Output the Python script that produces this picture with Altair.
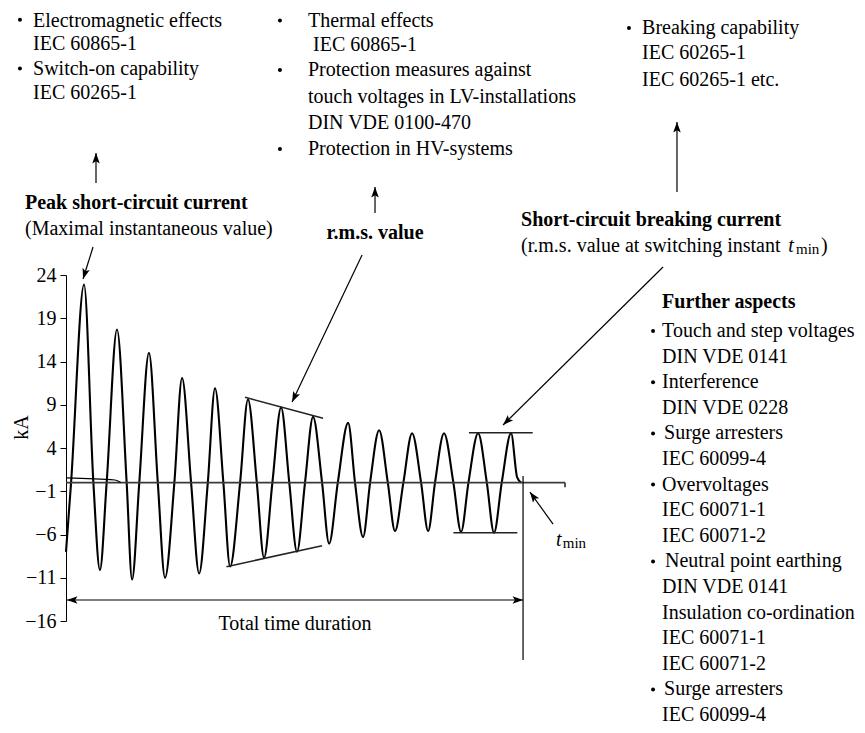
import math
import altair as alt
import pandas as pd

# ---------------- data (time in ms, current in kA) ----------------
wave_t = [0, 3.1, 11.0, 16.7, 20.7, 24.8, 31.1, 37.0, 40.3, 44.7, 50.6, 56.0, 60.4, 66.1,
          70.8, 76.3, 81.2, 86.5, 90.9, 96.0, 100.1, 106.2, 111.0, 116.4, 120.8, 125.9,
          131.2, 136.2, 140.9, 145.8, 150.7, 156.2, 160.5, 165.8, 172.1, 176.3, 181.2,
          185.5, 191.0, 196.3, 200.7, 205.8, 211.1, 216.6, 220.9, 225.1, 230.6, 236.3,
          241.0, 245.5, 251.4, 256.7, 261.1, 265.8, 271.5, 275.2, 277.6]
wave_i = [-8.0, 0, 22.9, 0, -10.1, 0, 17.7, 0, -11.2, 0, 15.0, 0, -11.0, 0,
          12.1, 0, -10.5, 0, 10.9, 0, -9.7, 0, 9.6, 0, -8.7, 0,
          8.7, 0, -8.0, 0, 7.6, 0, -7.05, 0, 6.9, 0, -6.3,
          0, 6.05, 0, -5.6, 0, 5.7, 0, -5.6, 0, 5.7, 0,
          -5.7, 0, 5.7, 0, -5.8, 0, 5.7, 0.6, 0]

dc_t = [0, 29.9, 33.4]
dc_i = [0.55, 0.3, 0]

y_ticks = [24, 19, 14, 9, 4, -1, -6, -11, -16]

# envelope / reference lines (t, v, t2, v2)
rms_lines = [(109.2, 9.86, 156.8, 7.43), (97.9, -9.72, 156.2, -7.29)]
brk_lines = [(245.8, 5.77, 284.7, 5.77), (236.3, -5.79, 275.3, -5.79)]
t_min = 278.8
zero_end = 304.4

# arrows: (t_from, v_from, t_tip, v_tip)
arrows = [
    (16.5, 27.24, 10.4, 23.54),
    (18.3, 34.64, 18.3, 38.1),
    (188.5, 31.17, 188.5, 34.17),
    (372.7, 33.6, 372.7, 41.69),
    (180.6, 26.31, 137.9, 9.32),
    (364.2, 24.92, 266.6, 6.66),
    (297.1, -4.79, 283.0, -1.09),
]
total_v = -13.57

# text annotations
normal_txt = [
    (-20.1, 53.42, "Electromagnetic effects"),
    (-20.1, 50.66, "IEC 60865-1"),
    (-20.1, 47.87, "Switch-on capability"),
    (-20.1, 45.04, "IEC 60265-1"),
    (-25.0, 29.32, "(Maximal instantaneous value)"),
    (147.6, 53.36, "Thermal effects"),
    (150.7, 50.55, "IEC 60865-1"),
    (147.6, 47.7, "Protection measures against"),
    (147.6, 44.58, "touch voltages in LV-installations"),
    (147.6, 41.57, "DIN VDE 0100-470"),
    (147.6, 38.57, "Protection in HV-systems"),
    (351.4, 52.55, "Breaking capability"),
    (351.4, 49.66, "IEC 60265-1"),
    (351.4, 46.54, "IEC 60265-1 etc."),
    (277.6, 27.35, "(r.m.s. value at switching instant"),
    (460.6, 27.35, ")"),
    (363.6, 17.53, "Touch and step voltages"),
    (363.6, 14.57, "DIN VDE 0141"),
    (363.6, 11.61, "Interference"),
    (363.6, 8.65, "DIN VDE 0228"),
    (364.8, 5.69, "Surge arresters"),
    (363.6, 2.73, "IEC 60099-4"),
    (363.6, -0.23, "Overvoltages"),
    (363.6, -3.19, "IEC 60071-1"),
    (363.6, -6.15, "IEC 60071-2"),
    (365.4, -9.11, "Neutral point earthing"),
    (363.6, -12.07, "DIN VDE 0141"),
    (363.6, -15.03, "Insulation co-ordination"),
    (363.6, -17.99, "IEC 60071-1"),
    (363.6, -20.95, "IEC 60071-2"),
    (364.8, -23.91, "Surge arresters"),
    (363.6, -26.87, "IEC 60099-4"),
]
bold_txt = [
    (-25.0, 32.32, "Peak short-circuit current", "left"),
    (188.5, 28.86, "r.m.s. value", "center"),
    (277.6, 30.36, "Short-circuit breaking current", "left"),
    (363.6, 20.9, "Further aspects", "left"),
]
italic_txt = [(440.6, 27.35, "t"), (298.9, -6.64, "t")]
sub_txt = [(445.3, 26.95, "min"), (303.0, -7.0, "min")]
bullets = [(-28.1, 53.5), (-28.1, 47.87), (130.5, 53.42), (130.5, 47.7), (130.5, 38.57),
           (343.4, 52.55), (358.1, 17.53), (358.1, 11.61), (358.1, 5.69), (358.1, -0.23),
           (358.1, -9.11), (358.1, -23.91)]
total_label = (139.7, -16.35, "Total time duration")

# ---------------- chart ----------------
W, H = 500, 346
XD, YD = [0, 305], [-16, 24]
FONT = "Liberation Serif"

xs = alt.Scale(domain=XD, nice=False, zero=False)
ys = alt.Scale(domain=YD, nice=False, zero=False)
YAX = alt.Axis(values=y_ticks, grid=False, labelFont=FONT, labelFontSize=20,
               labelColor="black", tickColor="black", domainColor="black",
               tickSize=6, labelPadding=4, titleFont=FONT, titleFontSize=20,
               titleFontWeight="normal", titleColor="black", titleX=-39,
               titleY=152, titleBaseline="alphabetic", titleAlign="center",
               titleAngle=270, domainWidth=1, tickWidth=1)


def X(f="t"):
    return alt.X(f"{f}:Q", scale=xs, axis=None)


def Y(f="v"):
    return alt.Y(f"{f}:Q", scale=ys, axis=YAX, title="kA")


def angle_of(t1, v1, t2, v2):
    dx = (t2 - t1) * W / (XD[1] - XD[0])
    dy = -(v2 - v1) * H / (YD[1] - YD[0])
    return math.degrees(math.atan2(dx, -dy)) % 360


wave_df = pd.DataFrame({"t": wave_t, "v": wave_i})
dc_df = pd.DataFrame({"t": dc_t, "v": dc_i})

wave = alt.Chart(wave_df).mark_line(
    color="black", strokeWidth=2.1, interpolate="monotone", clip=False
).encode(x=X(), y=Y(), order=alt.Order("t:Q"))

dc = alt.Chart(dc_df).mark_line(color="black", strokeWidth=1.2, interpolate="monotone").encode(
    x=X(), y=Y(), order=alt.Order("t:Q"))

seg_rows = []
for (a, b, c, d) in rms_lines + brk_lines:
    seg_rows.append({"t": a, "v": b, "t2": c, "v2": d})
seg_df = pd.DataFrame(seg_rows)
env = alt.Chart(seg_df).mark_rule(color="#222", strokeWidth=1.5).encode(
    x=X(), y=Y(), x2="t2:Q", y2="v2:Q")

zero_df = pd.DataFrame([
    {"t": 0, "v": 0, "t2": zero_end, "v2": 0},
    {"t": zero_end, "v": 0, "t2": zero_end, "v2": -0.55},
])
zero = alt.Chart(zero_df).mark_rule(color="#3a3a3a", strokeWidth=1.7).encode(
    x=X(), y=Y(), x2="t2:Q", y2="v2:Q")

tmin_df = pd.DataFrame([{"t": t_min, "v": 0.76, "t2": t_min, "v2": -20.5}])
tmin_line = alt.Chart(tmin_df).mark_rule(color="black", strokeWidth=1.2, clip=False).encode(
    x=X(), y=Y(), x2="t2:Q", y2="v2:Q")

arr_rows = [{"t": a, "v": b, "t2": c, "v2": d} for (a, b, c, d) in arrows]
arr_rows.append({"t": 0.6, "v": total_v, "t2": t_min, "v2": total_v})
arr_df = pd.DataFrame(arr_rows)
arr_lines = alt.Chart(arr_df).mark_rule(color="black", strokeWidth=1.2, clip=False).encode(
    x=X(), y=Y(), x2="t2:Q", y2="v2:Q")

head_rows = [{"t": c, "v": d, "a": angle_of(a, b, c, d)} for (a, b, c, d) in arrows]
head_rows.append({"t": 0.6, "v": total_v, "a": 270.0})
head_rows.append({"t": t_min, "v": total_v, "a": 90.0})
head_df = pd.DataFrame(head_rows)
heads = alt.Chart(head_df).mark_point(
    shape="M0,0L-0.36,1L0,0.78L0.36,1Z", filled=True, color="black", opacity=1,
    size=440, strokeWidth=0, clip=False
).encode(x=X(), y=Y(), angle=alt.Angle("a:Q", scale=None))

norm_df = pd.DataFrame(normal_txt, columns=["t", "v", "s"])
norm = alt.Chart(norm_df).mark_text(
    font=FONT, fontSize=20, align="left", baseline="middle", color="black"
).encode(x=X(), y=Y(), text="s:N")

bold_df = pd.DataFrame(bold_txt, columns=["t", "v", "s", "al"])
bold_layers = []
for al in ["left", "center"]:
    sub = bold_df[bold_df["al"] == al]
    bold_layers.append(alt.Chart(sub).mark_text(
        font=FONT, fontSize=20, fontWeight="bold", align=al, baseline="middle", color="black"
    ).encode(x=X(), y=Y(), text="s:N"))

ital_df = pd.DataFrame(italic_txt, columns=["t", "v", "s"])
ital = alt.Chart(ital_df).mark_text(
    font=FONT, fontSize=20, fontStyle="italic", align="left", baseline="middle", color="black"
).encode(x=X(), y=Y(), text="s:N")

sub_df = pd.DataFrame(sub_txt, columns=["t", "v", "s"])
subs = alt.Chart(sub_df).mark_text(
    font=FONT, fontSize=15, align="left", baseline="middle", color="black"
).encode(x=X(), y=Y(), text="s:N")

bul_df = pd.DataFrame(bullets, columns=["t", "v"])
bul = alt.Chart(bul_df).mark_point(
    shape="circle", filled=True, color="black", opacity=1, size=16, clip=False
).encode(x=X(), y=Y())

tot_df = pd.DataFrame([total_label], columns=["t", "v", "s"])
tot = alt.Chart(tot_df).mark_text(
    font=FONT, fontSize=20, align="center", baseline="middle", color="black"
).encode(x=X(), y=Y(), text="s:N")

chart = alt.layer(
    wave, zero, dc, env, tmin_line, arr_lines, heads, norm, *bold_layers, ital, subs, bul, tot
).properties(
    width=W, height=H,
    autosize=alt.AutoSizeParams(type="none"),
    padding={"left": 58, "top": 267, "right": 291, "bottom": 104},
    background="white",
).configure_view(stroke=None)

chart.save("out.html", embed_options={"renderer": "svg", "actions": False})
